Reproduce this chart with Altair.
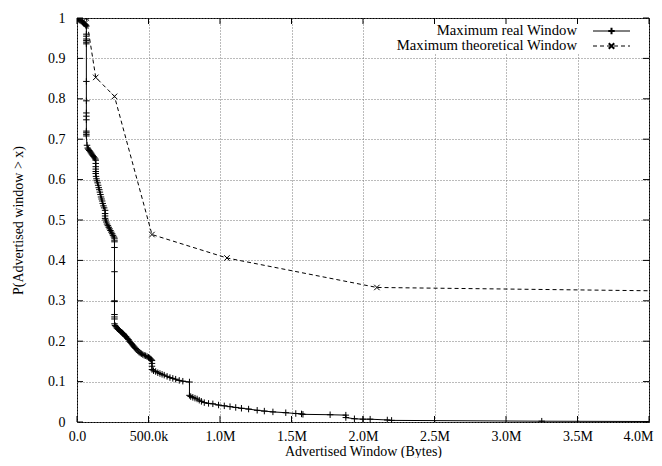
import altair as alt
import pandas as pd

# ---------------- data ----------------
real_x = [2000, 8000, 15000, 22000, 30000, 38000, 45000, 52000, 58000, 62000, 65536,
          65536, 65536, 65536, 65536, 65536, 65536, 65536, 65536, 65536, 65536, 65536, 65536, 65536, 65536, 65536,
          70000, 75000, 80000, 86000, 92000, 98000, 104000, 110000, 116000, 122000, 128000,
          131072, 131072, 131072, 131072, 131072, 131072,
          133000, 136000, 140000, 144000, 148000, 152000, 156000, 160000, 164000, 168000, 172000, 176000, 180000,
          185000, 190000, 196608, 196608, 196608, 196608,
          200000, 205000, 210000, 216000, 222000, 228000, 234000, 240000, 246000, 252000, 258000,
          262144, 262144, 262144, 262144, 262144, 262144, 262144, 262144, 262144, 262144, 262144,
          266000, 272000, 278000, 284000, 290000, 297000, 304000, 311000, 318000, 325000, 332000, 339000,
          346000, 353000, 360000, 367000, 374000, 381000, 388000, 395000, 402000, 410000, 418000, 426000,
          434000, 442000, 450000, 460000, 470000, 480000, 490000, 500000, 508000, 515000, 520000,
          524288, 524288, 524288, 524288,
          535000, 550000, 565000, 580000, 595000, 610000, 630000, 650000, 670000, 690000, 715000, 740000,
          786432, 786432,
          795000, 810000, 825000, 840000, 855000, 870000, 890000, 920000, 950000, 990000, 1030000, 1070000,
          1110000, 1150000, 1200000, 1260000, 1310000, 1370000, 1460000, 1530000, 1570000, 1580000, 1770000,
          1880000, 1880000,
          1940000, 2000000, 2050000, 2170000, 2200000, 3250000, 4200000]
real_p = [0.999, 0.997, 0.995, 0.994, 0.992, 0.990, 0.988, 0.986, 0.984, 0.982, 0.980,
          0.960, 0.955, 0.948, 0.944, 0.940, 0.936, 0.843, 0.795, 0.765, 0.757, 0.748, 0.720, 0.716, 0.712, 0.708,
          0.685, 0.678, 0.675, 0.672, 0.669, 0.666, 0.663, 0.660, 0.657, 0.654, 0.651,
          0.648, 0.640, 0.632, 0.626, 0.620, 0.615,
          0.608, 0.602, 0.597, 0.592, 0.586, 0.580, 0.575, 0.569, 0.563, 0.557, 0.552, 0.547, 0.541,
          0.535, 0.530, 0.524, 0.516, 0.510, 0.504,
          0.500, 0.495, 0.490, 0.486, 0.482, 0.478, 0.474, 0.470, 0.466, 0.462, 0.458,
          0.455, 0.450, 0.446, 0.432, 0.372, 0.300, 0.298, 0.266, 0.260, 0.255, 0.243,
          0.239, 0.236, 0.233, 0.231, 0.229, 0.227, 0.224, 0.222, 0.220, 0.218, 0.215, 0.212,
          0.210, 0.207, 0.204, 0.200, 0.197, 0.194, 0.191, 0.188, 0.185, 0.182, 0.179, 0.176,
          0.173, 0.171, 0.169, 0.167, 0.165, 0.164, 0.162, 0.160, 0.158, 0.156, 0.154,
          0.152, 0.145, 0.138, 0.130,
          0.127, 0.125, 0.122, 0.120, 0.118, 0.116, 0.113, 0.110, 0.108, 0.106, 0.103, 0.101,
          0.099, 0.066,
          0.063, 0.061, 0.059, 0.057, 0.054, 0.051, 0.048, 0.046, 0.045, 0.042, 0.040, 0.038,
          0.036, 0.034, 0.032, 0.029, 0.027, 0.025, 0.023, 0.021, 0.020, 0.019, 0.018,
          0.017, 0.011,
          0.008, 0.007, 0.007, 0.005, 0.004, 0.002, 0.001]

theo_x = [65536, 131072, 262144, 524288, 1048576, 2097152, 4194304]
theo_p = [1.000, 0.853, 0.806, 0.464, 0.406, 0.333, 0.324]

x_ticks = [0, 500000, 1000000, 1500000, 2000000, 2500000, 3000000, 3500000, 4000000]
y_ticks = [0, 0.1, 0.2, 0.3, 0.4, 0.5, 0.6, 0.7, 0.8, 0.9, 1.0]

legend_labels = ["Maximum real Window", "Maximum theoretical Window"]

real_df = pd.DataFrame({"x": real_x, "p": real_p, "i": range(len(real_x))})
theo_df = pd.DataFrame({"x": theo_x, "p": theo_p, "i": range(len(theo_x))})
xt_df = pd.DataFrame({"v": x_ticks})
yt_df = pd.DataFrame({"v": y_ticks})
one = pd.DataFrame({"a": [0]})

W, H = 572, 404
FONT = "Liberation Serif"
PLUS = "M-1,0L1,0M0,-1L0,1"
CROSS = "M-1,-1L1,1M-1,1L1,-1"

xscale = alt.Scale(domain=[0, 4000000], nice=False, zero=False)
yscale = alt.Scale(domain=[0, 1], nice=False)

label_expr = ("datum.value == 0 ? '0.0' : (datum.value < 1000000 ? format(datum.value/1000, '.1f') + 'k'"
              " : format(datum.value/1000000, '.1f') + 'M')")
last_tick = "datum.value >= 4000000"

xaxis = alt.Axis(values=x_ticks, labelExpr=label_expr, grid=True, gridDash=[1, 2], gridColor="#777",
                 ticks=False, domain=False, labelFont=FONT, labelFontSize=14, labelPadding=7,
                 labelFlush=False, labelOverlap=False, labelBound=False,
                 labelAlign={"condition": {"test": last_tick, "value": "right"}, "value": "center"},
                 labelOffset={"condition": {"test": last_tick, "value": 4}, "value": 0},
                 labelColor="black", title="Advertised Window (Bytes)", titleFont=FONT,
                 titleFontSize=14, titleFontWeight="normal", titleColor="black",
                 titleY=29, titleBaseline="middle")
yaxis = alt.Axis(values=y_ticks, format=".1~f", grid=True, gridDash=[1, 2], gridColor="#777",
                 ticks=False, domain=False, labelFont=FONT, labelFontSize=14, labelPadding=12,
                 labelFlush=False, labelOverlap=False,
                 labelColor="black", title="P(Advertised window > x)", titleFont=FONT,
                 titleFontSize=14, titleFontWeight="normal", titleColor="black",
                 titleX=-59, titleY=H / 2, titleAngle=270, titleBaseline="middle", titleAlign="center")

base_grid = alt.Chart(real_df).mark_point(opacity=0).encode(
    x=alt.X("x:Q", scale=xscale, axis=xaxis),
    y=alt.Y("p:Q", scale=yscale, axis=yaxis),
)

legend_bg = alt.Chart(one).mark_rect(fill="white", stroke=None).encode(
    x=alt.value(305), x2=alt.value(571), y=alt.value(1), y2=alt.value(35))

real_line = alt.Chart(real_df).mark_line(color="black", strokeWidth=1, clip=True).encode(
    x=alt.X("x:Q", scale=xscale), y=alt.Y("p:Q", scale=yscale), order="i:Q")
real_pts = alt.Chart(real_df).mark_point(shape=PLUS, size=42, color="black", filled=False,
                                        strokeWidth=1, opacity=1, clip=True).encode(
    x=alt.X("x:Q", scale=xscale), y=alt.Y("p:Q", scale=yscale))

theo_line = alt.Chart(theo_df).mark_line(color="black", strokeWidth=1, strokeDash=[4, 3], clip=True).encode(
    x=alt.X("x:Q", scale=xscale), y=alt.Y("p:Q", scale=yscale), order="i:Q")
theo_pts = alt.Chart(theo_df).mark_point(shape=CROSS, size=30, color="black", filled=False,
                                        strokeWidth=1, opacity=1, clip=True).encode(
    x=alt.X("x:Q", scale=xscale), y=alt.Y("p:Q", scale=yscale))

# inward tick marks on all four sides
xt_bot = alt.Chart(xt_df).mark_rule(color="black", strokeWidth=1).encode(
    x=alt.X("v:Q", scale=xscale), y=alt.value(H), y2=alt.value(H - 6))
xt_top = alt.Chart(xt_df).mark_rule(color="black", strokeWidth=1).encode(
    x=alt.X("v:Q", scale=xscale), y=alt.value(0), y2=alt.value(6))
yt_left = alt.Chart(yt_df).mark_rule(color="black", strokeWidth=1).encode(
    y=alt.Y("v:Q", scale=yscale), x=alt.value(0), x2=alt.value(6))
yt_right = alt.Chart(yt_df).mark_rule(color="black", strokeWidth=1).encode(
    y=alt.Y("v:Q", scale=yscale), x=alt.value(W), x2=alt.value(W - 6))

# legend (top-right, inside)
def legend_text(label, yy):
    return alt.Chart(one).mark_text(align="right", baseline="middle", font=FONT, fontSize=14.7,
                                    color="black").encode(
        x=alt.value(500), y=alt.value(yy), text=alt.value(label))

leg1_t = legend_text(legend_labels[0], 13)
leg2_t = legend_text(legend_labels[1], 28)
leg1_l = alt.Chart(one).mark_rule(color="black", strokeWidth=1).encode(
    x=alt.value(516), x2=alt.value(553), y=alt.value(13))
leg2_l = alt.Chart(one).mark_rule(color="black", strokeWidth=1, strokeDash=[4, 3]).encode(
    x=alt.value(516), x2=alt.value(553), y=alt.value(28))
leg1_p = alt.Chart(one).mark_point(shape=PLUS, size=42, color="black", filled=False, opacity=1).encode(
    x=alt.value(534.5), y=alt.value(13))
leg2_p = alt.Chart(one).mark_point(shape=CROSS, size=30, color="black", filled=False, opacity=1).encode(
    x=alt.value(534.5), y=alt.value(28))

chart = alt.layer(
    base_grid, legend_bg, theo_line, theo_pts, real_line, real_pts,
    xt_bot, xt_top, yt_left, yt_right,
    leg1_t, leg2_t, leg1_l, leg2_l, leg1_p, leg2_p,
).properties(
    width=W, height=H,
    autosize=alt.AutoSizeParams(type="none"),
    padding={"left": 69, "top": 10, "right": 5, "bottom": 36},
    background="white",
).configure_view(stroke="black", strokeWidth=1)

chart.save("out.html", embed_options={"renderer": "svg", "actions": False})
